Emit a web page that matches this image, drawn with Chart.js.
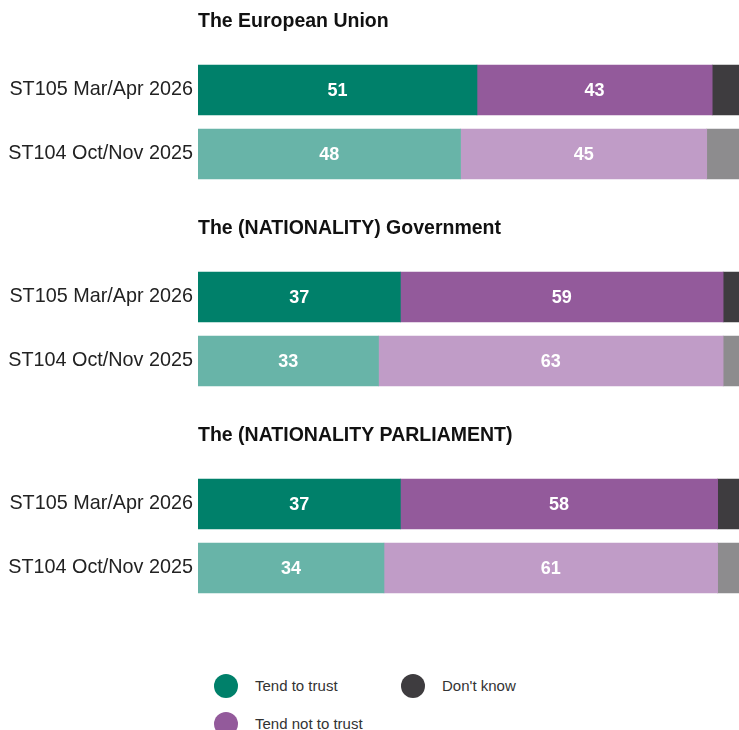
<!DOCTYPE html>
<html>
<head>
<meta charset="utf-8">
<script src="https://cdn.jsdelivr.net/npm/chart.js@4.4.1/dist/chart.umd.min.js"></script>
<style>
  html, body { margin: 0; padding: 0; background: #fff; overflow: hidden; }
  #page { position: relative; width: 739px; height: 730px; }
  .group { position: absolute; left: 0; width: 739px; height: 207px; }
  .legend-item { position: absolute; font: 15px "Liberation Sans", Arial, sans-serif; color: #333; white-space: nowrap; }
  .legend-item span.dot { position: absolute; left: -41px; top: -3px; width: 24px; height: 24px; border-radius: 50%; }
</style>
</head>
<body>
<div id="page">
  <div class="group" style="top:0"><canvas id="g0"></canvas></div>
  <div class="group" style="top:207px"><canvas id="g1"></canvas></div>
  <div class="group" style="top:414px"><canvas id="g2"></canvas></div>
  <div id="legend"></div>
</div>
<script>
// Data
const groupTitles = ['The European Union', 'The (NATIONALITY) Government', 'The (NATIONALITY PARLIAMENT)'];
const waves = ['ST105 Mar/Apr 2026', 'ST104 Oct/Nov 2025'];
const seriesNames = ['Tend to trust', 'Tend not to trust', "Don't know"];
const trust = [[51, 48], [37, 33], [37, 34]];
const notTrust = [[43, 45], [59, 63], [58, 61]];
const dontKnow = [[6, 7], [4, 4], [5, 5]];

// colours: [current wave, previous wave]
const COLORS = {
    trust: ['#00806a', '#68b4a8'],
    notTrust: ['#935a9b', '#c09cc7'],
    dontKnow: ['#3e3c3f', '#8d8c8e']
};
const FONT = '"Liberation Sans", Arial, sans-serif';

// white numbers in the middle of each segment
const valueLabels = {
    id: 'valueLabels',
    afterDatasetsDraw(chart) {
        const ctx = chart.ctx;
        ctx.save();
        ctx.font = 'bold 18px ' + FONT;
        ctx.fillStyle = '#fff';
        ctx.textAlign = 'center';
        ctx.textBaseline = 'middle';
        chart.data.datasets.forEach((ds, i) => {
            if (!ds.showValues) return;
            chart.getDatasetMeta(i).data.forEach((bar, j) => {
                ctx.fillText(ds.data[j], (bar.x + bar.base) / 2, bar.y + 1);
            });
        });
        ctx.restore();
    }
};

function makeChart(idx) {
    const ctx = document.getElementById('g' + idx).getContext('2d');
    return new Chart(ctx, {
        type: 'bar',
        data: {
            labels: waves,
            datasets: [
                { label: seriesNames[0], data: trust[idx], backgroundColor: COLORS.trust, showValues: true },
                { label: seriesNames[1], data: notTrust[idx], backgroundColor: COLORS.notTrust, showValues: true },
                { label: seriesNames[2], data: dontKnow[idx], backgroundColor: COLORS.dontKnow }
            ]
        },
        options: {
            indexAxis: 'y',
            responsive: true,
            maintainAspectRatio: false,
            animation: false,
            barThickness: 50,
            layout: { padding: { left: 0, right: 0, top: 0, bottom: 21 } },
            plugins: {
                legend: { display: false },
                tooltip: { enabled: false },
                title: {
                    display: true,
                    text: groupTitles[idx],
                    align: 'start',
                    fullSize: false,
                    color: '#111',
                    font: { family: FONT, size: 19.5, weight: 'bold' },
                    padding: { top: 10, bottom: 24.6 }
                }
            },
            scales: {
                x: { stacked: true, display: false, min: 0, max: 98.9 },
                y: {
                    stacked: true,
                    grid: { display: false, drawTicks: false },
                    border: { display: false },
                    ticks: { color: '#222', font: { family: FONT, size: 19.8 }, padding: 5 },
                    afterFit(scale) { scale.width = 198; }
                }
            }
        },
        plugins: [valueLabels]
    });
}

groupTitles.forEach((_, i) => makeChart(i));

// legend
const legendPos = [[255, 677], [255, 715], [442, 677]];
const legendColors = [COLORS.trust[0], COLORS.notTrust[0], COLORS.dontKnow[0]];
const legend = document.getElementById('legend');
seriesNames.forEach((name, i) => {
    const item = document.createElement('div');
    item.className = 'legend-item';
    item.style.left = legendPos[i][0] + 'px';
    item.style.top = legendPos[i][1] + 'px';
    item.innerHTML = '<span class="dot" style="background:' + legendColors[i] + '"></span>';
    item.appendChild(document.createTextNode(name));
    legend.appendChild(item);
});
</script>
</body>
</html>
